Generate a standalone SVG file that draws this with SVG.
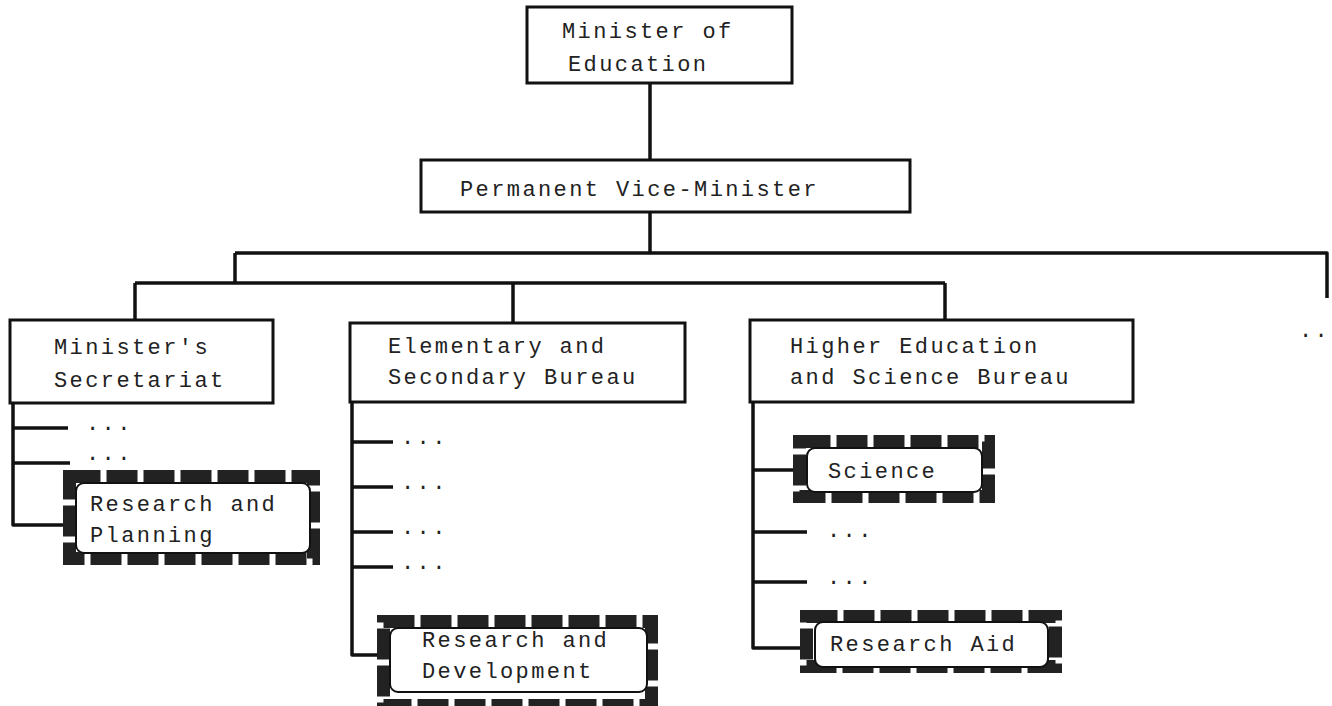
<svg xmlns="http://www.w3.org/2000/svg" width="1332" height="706" viewBox="0 0 1332 706">
<style>
.box{fill:#fff;stroke:#111;stroke-width:3}
.band{fill:none;stroke:#222;stroke-width:13;stroke-dasharray:31 6}
.inner{fill:#fff;stroke:#111;stroke-width:2}
.ln{fill:none;stroke:#111;stroke-width:3.5;stroke-linejoin:round}
text{font-family:"Liberation Mono","DejaVu Sans Mono",monospace;font-size:22px;letter-spacing:2.4px;fill:#222}
</style>
<rect width="1332" height="706" fill="#fff"/>
<g id="connectors" class="ln">
<path d="M650 83V160"/>
<path d="M650 212V253"/>
<path d="M235 253H1327V298"/>
<path d="M235 253V283"/>
<path d="M135 283H945"/>
<path d="M135 283V320"/>
<path d="M513 283V323"/>
<path d="M945 283V320"/>
<path d="M13 403V525H63"/>
<path d="M13 428H68"/>
<path d="M13 463H70"/>
<path d="M352 402V655H377"/>
<path d="M352 442H393"/>
<path d="M352 487H393"/>
<path d="M352 532H393"/>
<path d="M352 567H393"/>
<path d="M753 402V648H800"/>
<path d="M753 470H793"/>
<path d="M753 532H807"/>
<path d="M753 582H807"/>
</g>
<g id="minister">
<rect class="box" x="527" y="7" width="265" height="76"/>
<text x="562" y="38">Minister of</text>
<text x="568" y="71">Education</text>
</g>
<g id="vice-minister">
<rect class="box" x="421" y="160" width="489" height="52"/>
<text x="460" y="196">Permanent Vice-Minister</text>
</g>
<g id="secretariat">
<rect class="box" x="10" y="320" width="263" height="83"/>
<text x="54" y="354">Minister's</text>
<text x="54" y="387">Secretariat</text>
<text x="86" y="430">...</text>
<text x="86" y="460">...</text>
</g>
<g id="research-planning">
<rect class="band" x="69.5" y="476.5" width="244" height="82"/>
<rect class="inner" x="76" y="483" width="234" height="70" rx="8"/>
<text x="90" y="511">Research and</text>
<text x="90" y="542">Planning</text>
</g>
<g id="elementary">
<rect class="box" x="350" y="323" width="335" height="79"/>
<text x="388" y="353">Elementary and</text>
<text x="388" y="384">Secondary Bureau</text>
<text x="401" y="444">...</text>
<text x="401" y="489">...</text>
<text x="401" y="534">...</text>
<text x="401" y="569">...</text>
</g>
<g id="research-development">
<rect class="band" x="383.5" y="621.5" width="268" height="84"/>
<rect class="inner" x="390" y="628" width="257" height="64" rx="8"/>
<text x="422" y="647">Research and</text>
<text x="422" y="678">Development</text>
</g>
<g id="higher-education">
<rect class="box" x="750" y="320" width="383" height="82"/>
<text x="790" y="353">Higher Education</text>
<text x="790" y="384">and Science Bureau</text>
<text x="827" y="537">...</text>
<text x="827" y="584">...</text>
</g>
<g id="science">
<rect class="band" x="799.5" y="441.5" width="189" height="55"/>
<rect class="inner" x="807" y="448" width="175" height="44" rx="8"/>
<text x="828" y="478">Science</text>
</g>
<g id="research-aid">
<rect class="band" x="806.5" y="616.5" width="249" height="50"/>
<rect class="inner" x="815" y="622" width="233" height="45" rx="8"/>
<text x="830" y="651">Research Aid</text>
</g>
<g id="more">
<text x="1299" y="337">..</text>
</g>
</svg>
